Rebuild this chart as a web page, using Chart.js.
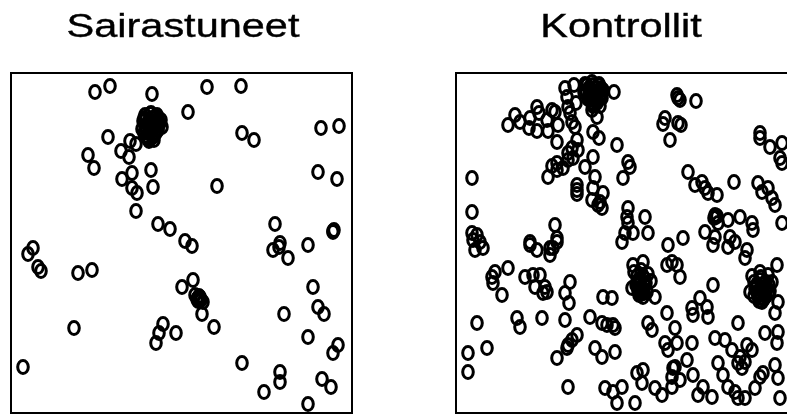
<!DOCTYPE html>
<html>
<head>
<meta charset="utf-8">
<script src="https://cdn.jsdelivr.net/npm/chart.js@4/dist/chart.umd.min.js"></script>
<style>
  html, body { margin: 0; padding: 0; background: #ffffff; overflow: hidden; width: 787px; height: 416px; }
  canvas { position: absolute; top: 0; }
  #cases { left: 0; }
  #controls { left: 400px; }
</style>
</head>
<body>
<canvas id="cases" width="400" height="416"></canvas>
<canvas id="controls" width="410" height="416"></canvas>
<script>
// Study area extent (km)
const areaX = [0, 3.41];
const areaY = [0, 3.40];

const panelTitles = ["Sairastuneet", "Kontrollit"];

// Locations of cases (x, y in km)
const casesX = [0.84,0.99,1.41,
  1.33,1.39,1.45,1.49,1.44,1.37,1.31,1.39,1.47,1.35,1.42,1.38,
  1.34,1.40,1.46,1.50,1.44,1.38,1.32,1.34,1.40,1.46,1.51,1.33,1.39,1.45,1.37,1.43,
  1.35,1.41,1.47,1.38,1.44,1.35,1.41,1.47,1.38,1.44,1.36,1.41,1.42,1.48,1.36,
  0.97,1.19,1.25,1.10,1.18,0.77,0.83,1.40,1.21,1.11,1.21,1.26,1.42,1.25,1.47,1.59,1.74,1.81,
  1.96,2.30,1.77,2.31,2.43,3.10,3.28,3.07,3.26,2.06,2.64,3.22,3.23,3.22,
  2.69,2.62,2.77,2.68,2.97,
  0.22,0.17,0.27,0.30,0.67,0.81,0.63,1.52,1.48,1.45,1.65,0.12,
  1.71,1.82,1.84,1.89,1.92,1.87,1.88,1.86,1.90,1.89,1.87,1.91,2.03,
  3.02,3.07,3.13,2.73,2.97,3.27,3.22,2.31,2.69,2.69,2.53,3.11,3.20,2.97];
const casesY = [3.21,3.27,3.19,
  2.95,2.99,2.96,2.90,2.87,2.89,2.84,2.82,2.83,2.77,2.76,2.72,
  2.98,3.00,2.98,2.93,2.92,2.93,2.92,2.86,2.86,2.87,2.86,2.80,2.79,2.80,2.74,2.73,
  2.94,2.95,2.94,2.90,2.89,2.85,2.84,2.84,2.80,2.80,2.76,2.78,2.90,2.90,2.89,
  2.76,2.72,2.69,2.62,2.56,2.58,2.45,2.43,2.40,2.34,2.25,2.20,2.26,2.02,1.89,1.84,1.72,1.67,
  3.26,3.27,3.01,2.80,2.73,2.85,2.87,2.41,2.34,2.27,1.89,1.81,1.83,1.82,
  1.70,1.63,1.55,1.66,1.68,
  1.65,1.59,1.46,1.42,1.40,1.43,0.85,0.89,0.80,0.70,0.80,0.46,
  1.26,1.33,1.18,1.15,1.11,1.12,1.17,1.14,1.13,1.16,1.15,0.99,0.86,
  1.26,1.06,0.99,0.99,0.76,0.68,0.60,0.50,0.41,0.31,0.21,0.34,0.26,0.09];

// Locations of controls (x, y in km)
const controlsX = [
  1.29,1.36,1.43,1.47,1.41,1.34,1.28,1.32,1.40,1.46,1.37,1.44,
  1.31,1.37,1.43,1.30,1.36,1.42,1.46,1.33,1.39,1.44,1.36,1.41,
  1.33,1.39,1.45,1.33,1.39,1.45,1.35,1.41,1.38,1.42,
  1.58,1.09,1.18,1.11,1.20,1.12,0.81,0.96,
  0.59,0.52,0.64,0.74,0.73,0.83,0.91,0.99,1.02,0.81,0.92,
  1.14,1.16,1.19,1.41,1.36,1.01,1.21,1.37,1.43,1.61,
  1.16,1.12,1.22,1.37,1.01,1.07,1.01,0.96,1.12,1.17,0.92,1.29,1.39,
  1.21,1.21,1.21,1.37,1.47,1.36,1.42,1.46,1.44,
  0.16,0.16,0.16,0.21,0.99,1.01,0.74,
  2.21,2.24,2.22,2.40,2.09,2.07,2.22,2.25,2.14,
  1.72,1.74,1.67,2.32,2.39,2.46,2.49,2.52,2.61,2.78,
  3.04,3.04,3.14,3.26,3.24,3.26,3.02,3.06,3.12,3.16,3.19,3.26,
  1.72,1.71,1.72,1.89,1.92,1.77,1.69,
  2.59,2.61,2.58,2.60,2.62,2.72,2.84,2.96,2.97,2.49,2.59,2.74,2.79,2.27,2.12,
  0.17,0.24,0.19,0.27,0.74,0.81,0.94,0.94,1.01,0.97,1.66,
  0.36,0.39,0.37,0.52,0.46,0.69,0.77,0.84,0.79,0.89,0.91,0.87,
  1.14,1.09,1.13,1.47,1.56,0.21,0.61,0.64,0.86,1.09,
  1.34,1.46,1.51,1.57,1.59,0.31,0.12,0.12,
  1.21,1.16,1.12,1.11,1.01,1.39,1.46,1.59,1.12,1.49,1.57,1.61,1.66,
  2.57,2.72,2.91,2.89,2.16,2.21,2.11,2.24,1.77,1.87,
  1.78,1.85,1.92,1.95,1.89,1.81,1.76,1.83,1.91,1.87,1.99,
  1.81,1.87,1.84,1.90,1.80,1.86,1.82,1.88,1.85,
  1.83,1.89,1.83,1.89,1.84,1.86,1.83,
  2.57,2.44,2.36,2.37,2.51,2.52,2.11,
  2.96,3.04,3.12,3.16,3.10,3.01,2.94,3.02,3.10,3.14,3.06,3.21,3.22,3.19,
  2.98,3.04,3.10,2.99,3.05,3.11,2.98,3.04,3.10,3.03,
  3.01,3.07,3.13,3.01,3.07,3.13,3.04,3.08,3.05,
  1.92,1.96,2.19,2.09,2.21,2.36,2.12,2.31,2.19,
  2.59,2.69,2.76,2.84,2.91,2.96,2.82,2.86,2.62,2.67,2.89,2.82,
  3.09,3.22,3.21,3.19,3.07,3.04,3.22,2.99,
  1.81,1.87,1.86,1.99,2.06,2.17,2.16,2.24,2.16,2.37,
  2.47,2.42,2.56,2.72,2.79,2.82,2.89,1.79,3.24];
const controlsY = [
  3.29,3.31,3.29,3.23,3.20,3.22,3.21,3.14,3.13,3.15,3.07,3.07,
  3.28,3.28,3.28,3.22,3.22,3.22,3.20,3.16,3.17,3.15,3.10,3.10,
  3.25,3.25,3.25,3.19,3.19,3.18,3.13,3.13,3.08,3.20,
  3.21,3.25,3.28,3.16,3.10,3.06,3.06,3.03,
  2.98,2.88,2.91,2.95,2.85,3.00,2.93,3.01,2.88,2.82,2.82,
  3.00,2.91,2.86,2.96,3.03,2.71,2.73,2.81,2.75,2.68,
  2.65,2.60,2.63,2.56,2.50,2.45,2.43,2.47,2.53,2.55,2.36,2.46,2.36,
  2.28,2.23,2.19,2.25,2.20,2.13,2.08,2.05,2.11,
  2.35,2.01,1.80,1.78,1.88,1.75,1.71,
  3.18,3.13,3.15,3.12,2.95,2.89,2.90,2.88,2.73,
  2.51,2.46,2.35,2.41,2.28,2.31,2.25,2.20,2.18,2.31,
  2.80,2.75,2.66,2.70,2.55,2.50,2.30,2.21,2.25,2.15,2.08,1.90,
  2.05,1.96,1.90,1.96,1.80,1.80,1.80,
  1.98,1.97,1.95,1.96,1.90,1.93,1.96,1.90,1.83,1.81,1.76,1.76,1.71,1.75,1.68,
  1.73,1.71,1.63,1.65,1.68,1.63,1.65,1.58,1.71,1.65,1.71,
  1.36,1.41,1.30,1.45,1.18,1.36,1.38,1.38,1.26,1.26,1.21,1.20,
  1.31,1.20,1.10,1.16,1.15,0.90,0.95,0.86,0.95,0.93,
  0.96,0.90,0.88,0.88,0.85,0.65,0.60,0.41,
  0.78,0.73,0.68,0.65,0.55,0.65,0.56,0.61,0.26,0.25,0.21,0.10,0.26,
  1.68,1.66,1.63,1.55,1.51,1.48,1.48,1.36,1.48,1.51,
  1.41,1.43,1.39,1.32,1.29,1.31,1.25,1.22,1.21,1.16,1.16,
  1.37,1.37,1.31,1.30,1.28,1.25,1.22,1.20,1.19,
  1.34,1.34,1.28,1.27,1.25,1.22,1.18,
  1.28,1.15,1.05,0.98,1.06,0.96,1.00,
  1.37,1.41,1.38,1.31,1.26,1.27,1.21,1.17,1.17,1.22,1.11,1.48,1.11,1.00,
  1.31,1.33,1.31,1.24,1.25,1.24,1.17,1.18,1.17,1.12,
  1.29,1.29,1.28,1.21,1.21,1.20,1.15,1.14,1.36,
  0.90,0.83,0.85,0.70,0.70,0.70,0.63,0.53,0.46,
  0.75,0.73,0.63,0.56,0.68,0.63,0.50,0.45,0.50,0.38,0.51,0.90,
  0.80,0.81,0.70,0.48,0.40,0.36,0.35,0.25,
  0.40,0.43,0.30,0.25,0.18,0.45,0.36,0.33,0.26,0.38,
  0.26,0.18,0.16,0.26,0.21,0.15,0.15,0.10,0.15];

function toPoints(xs, ys) {
  return xs.map((x, i) => ({ x: x, y: ys[i] }));
}

// Open oval marker, slightly taller than wide
function ovalMarker() {
  const c = document.createElement('canvas');
  c.width = 16; c.height = 18;
  const g = c.getContext('2d');
  g.strokeStyle = '#000';
  g.lineWidth = 3;
  g.beginPath();
  g.ellipse(8, 9, 5.3, 6.5, 0, 0, Math.PI * 2);
  g.stroke();
  return c;
}
const marker = ovalMarker();

// Draws the frame around the plotting region and the panel heading
const framePlugin = {
  id: 'frame',
  afterDatasetsDraw(chart, args, opts) {
    const { ctx, chartArea: a } = chart;
    ctx.save();
    ctx.strokeStyle = '#000';
    ctx.lineWidth = 2;
    ctx.strokeRect(a.left, a.top, a.right - a.left, a.bottom - a.top);
    ctx.restore();
  },
  afterDraw(chart, args, opts) {
    const ctx = chart.ctx;
    ctx.save();
    ctx.fillStyle = '#000';
    ctx.strokeStyle = '#000';
    ctx.lineWidth = 0.4;
    ctx.font = '34px "Liberation Sans", Arial, sans-serif';
    ctx.textAlign = 'center';
    ctx.textBaseline = 'alphabetic';
    ctx.translate(opts.centerX, 37);
    ctx.scale(opts.stretch, 1);
    ctx.fillText(opts.text, 0, 0);
    ctx.strokeText(opts.text, 0, 0);
    ctx.restore();
  }
};

function makePanel(id, xs, ys, title, pad, centerX) {
  return new Chart(document.getElementById(id), {
    type: 'scatter',
    data: {
      datasets: [{
        data: toPoints(xs, ys),
        pointStyle: marker,
        pointRadius: 6,
        clip: false
      }]
    },
    options: {
      responsive: false,
      animation: false,
      events: [],
      layout: { padding: pad, autoPadding: false },
      scales: {
        x: { type: 'linear', min: areaX[0], max: areaX[1], display: false },
        y: { type: 'linear', min: areaY[0], max: areaY[1], display: false }
      },
      plugins: {
        legend: { display: false },
        tooltip: { enabled: false },
        frame: { text: title, centerX: centerX, stretch: 1.22 }
      }
    },
    plugins: [framePlugin]
  });
}

makePanel('cases', casesX, casesY, panelTitles[0],
  { left: 11, right: 48, top: 73, bottom: 3 }, 183);
makePanel('controls', controlsX, controlsY, panelTitles[1],
  { left: 56, right: 13, top: 73, bottom: 3 }, 221);
</script>
</body>
</html>
